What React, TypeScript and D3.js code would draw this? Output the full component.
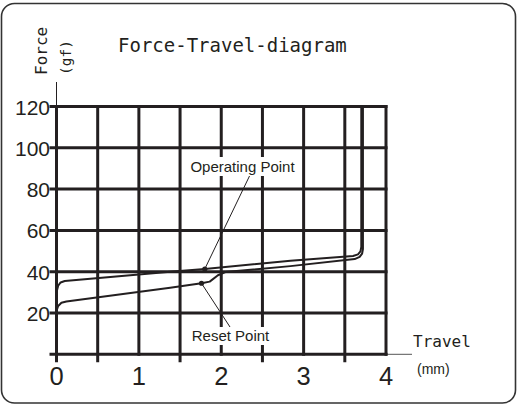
import React from 'react';
import * as d3 from 'd3';

const WIDTH = 517;
const HEIGHT = 405;

// axis ticks
const forceTicks = [0, 20, 40, 60, 80, 100, 120];
const forceLabels = [20, 40, 60, 80, 100, 120];
const travelGrid = [0, 0.5, 1, 1.5, 2, 2.5, 3, 3.5, 4];
const travelLabels = [0, 1, 2, 3, 4];

// curves: [travel mm, force gf]
const operatingCurve: [number, number][] = [
    [0, 30], [0.02, 33.2], [0.05, 34.8], [0.1, 35.5], [1.38, 40], [1.8, 41.3],
    [2.84, 45.3], [3.6, 47.6], [3.66, 48.4], [3.69, 49.8], [3.7, 52], [3.7, 120],
];
const resetCurve: [number, number][] = [
    [0, 21], [0.02, 23.4], [0.06, 25], [0.12, 25.6], [1.38, 32.2], [1.76, 34.4],
    [1.86, 35.2], [1.96, 38.3], [2.05, 39.8], [2.84, 42.7], [3.62, 46.1],
    [3.68, 47.2], [3.71, 48.8], [3.72, 51], [3.72, 120],
];
const operatingPoint: [number, number] = [1.8, 41.3];
const resetPoint: [number, number] = [1.76, 34.4];

const INK = '#231f20';

export default function App() {
    const x = d3.scaleLinear().domain([0, 4]).range([56.5, 386]);
    const y = d3.scaleLinear().domain([0, 120]).range([354.3, 106.5]);

    const line = d3.line<[number, number]>()
        .x(d => x(d[0]))
        .y(d => y(d[1]));

    const opX = x(operatingPoint[0]);
    const opY = y(operatingPoint[1]);
    const rsX = x(resetPoint[0]);
    const rsY = y(resetPoint[1]);

    return (
        <svg width={WIDTH} height={HEIGHT}
             style={{position: 'absolute', left: 0, top: 0, display: 'block', background: '#fff'}}>
            {/* frame */}
            <rect x={1.5} y={3.5} width={514} height={399.5} rx={13} ry={13}
                  fill="#fff" stroke="#333" strokeWidth={1.6}/>

            {/* title */}
            <text x={118} y={52} fontFamily="'DejaVu Sans Mono', monospace" fontSize={19}
                  fill={INK}>Force-Travel-diagram</text>

            {/* y axis title */}
            <text transform="translate(47,75) rotate(-90)" fontFamily="'DejaVu Sans Mono', monospace"
                  fontSize={16} fill={INK}>Force</text>
            <text transform="translate(71,75) rotate(-90)" fontFamily="'DejaVu Sans Mono', monospace"
                  fontSize={14.5} fill={INK}>(gf)</text>

            {/* thin axis extensions */}
            <line x1={x(0)} x2={x(0)} y1={82} y2={y(120)} stroke={INK} strokeWidth={1}/>
            <line x1={x(4)} x2={412} y1={y(0)} y2={y(0)} stroke="#555" strokeWidth={1}/>

            {/* horizontal grid */}
            {forceTicks.map(f => (
                <line key={`h${f}`} x1={x(0) - 7} x2={x(4) + 1.5} y1={y(f)} y2={y(f)}
                      stroke={INK} strokeWidth={3}/>
            ))}
            {/* vertical grid */}
            {travelGrid.map(t => (
                <line key={`v${t}`} x1={x(t)} x2={x(t)} y1={y(120) - 1.5}
                      y2={Number.isInteger(t) && t !== 0 ? y(0) + 1.5 : y(0) + 8}
                      stroke={INK} strokeWidth={3}/>
            ))}

            {/* y tick labels */}
            {forceLabels.map(f => (
                <text key={`yl${f}`} x={50} y={y(f) + 8} textAnchor="end"
                      fontFamily="'Liberation Sans', Arial, sans-serif" fontSize={21} fill={INK}>{f}</text>
            ))}
            {/* x tick labels */}
            {travelLabels.map(t => (
                <text key={`xl${t}`} x={x(t)} y={385} textAnchor="middle"
                      fontFamily="'Liberation Sans', Arial, sans-serif" fontSize={25.5} fill={INK}>{t}</text>
            ))}

            {/* x axis title */}
            <text x={413} y={347} fontFamily="'DejaVu Sans Mono', monospace" fontSize={16}
                  fill={INK}>Travel</text>
            <text x={417} y={374} fontFamily="'Liberation Sans', Arial, sans-serif" fontSize={14}
                  fill={INK}>(mm)</text>

            {/* curves */}
            <path d={line(operatingCurve) ?? ''} fill="none" stroke={INK} strokeWidth={2}
                  strokeLinejoin="round"/>
            <path d={line(resetCurve) ?? ''} fill="none" stroke={INK} strokeWidth={2}
                  strokeLinejoin="round"/>

            {/* annotations */}
            <rect x={186} y={157} width={113} height={19} fill="#fff"/>
            <line x1={opX} y1={opY} x2={249.5} y2={176} stroke={INK} strokeWidth={1}/>
            <circle cx={opX} cy={opY} r={2.6} fill={INK}/>
            <text x={242.5} y={171.5} textAnchor="middle"
                  fontFamily="'Liberation Sans', Arial, sans-serif" fontSize={15} fill={INK}>Operating Point</text>

            <rect x={189} y={327} width={83} height={18} fill="#fff"/>
            <line x1={rsX} y1={rsY} x2={230} y2={327} stroke={INK} strokeWidth={1}/>
            <circle cx={rsX} cy={rsY} r={2.6} fill={INK}/>
            <text x={230.5} y={340.5} textAnchor="middle"
                  fontFamily="'Liberation Sans', Arial, sans-serif" fontSize={15} fill={INK}>Reset Point</text>
        </svg>
    );
}
